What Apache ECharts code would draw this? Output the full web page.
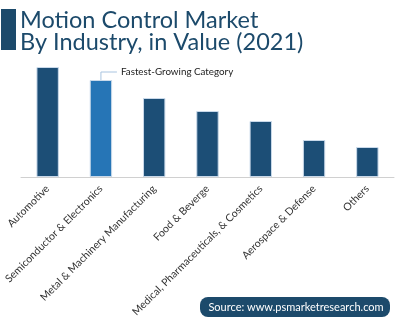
<!DOCTYPE html>
<html>
<head>
<meta charset="utf-8">
<script src="https://cdn.jsdelivr.net/npm/echarts@6/dist/echarts.min.js"></script>
<style>
  html, body { margin: 0; padding: 0; background: #fff; }
  #chart { width: 399px; height: 321px; }
</style>
</head>
<body>
<div id="chart"></div>
<script>
// Industry categories and relative market values (2021)
var categories = [
  'Automotive',
  'Semiconductor & Electronics',
  'Metal & Machinery Manufacturing',
  'Food & Beverge',
  'Medical, Pharmaceuticals, & Cosmetics',
  'Aerospace & Defense',
  'Others'
];
var values = [110, 97, 79, 66, 56, 37, 30];
var highlightIndex = 1;
var highlightText = 'Fastest-Growing Category';
var titleLines = ['Motion Control Market', 'By Industry, in Value (2021)'];
var sourceText = 'Source: www.psmarketresearch.com';

var DARK = '#1c4e76';
var LIGHT = '#2675b6';
var TITLE_COLOR = '#1c4a6b';
var FONT = 'Lato, "Open Sans", sans-serif';

var chart = echarts.init(document.getElementById('chart'), null, { renderer: 'canvas' });

var baseGraphics = [
  { type: 'rect', shape: { x: 1, y: 9, width: 15, height: 41 }, style: { fill: TITLE_COLOR } },
  { type: 'text', left: 20, top: 8, style: { text: titleLines[0], fill: TITLE_COLOR, font: '23.5px ' + FONT } },
  { type: 'text', left: 20, top: 30, style: { text: titleLines[1], fill: TITLE_COLOR, font: '23.5px ' + FONT } },
  { type: 'rect', shape: { x: 200, y: 297, width: 190, height: 20, r: 8 }, style: { fill: TITLE_COLOR } },
  { type: 'text', x: 296, y: 307, style: { text: sourceText, fill: '#fff', font: '11px ' + FONT, align: 'center', verticalAlign: 'middle' } }
];

var option = {
  animation: false,
  grid: { left: 21, right: 5, top: 67, bottom: 144, containLabel: false },
  xAxis: {
    type: 'category',
    data: categories,
    axisLine: { lineStyle: { color: '#d0d0d0', width: 1 } },
    axisTick: { show: false },
    axisLabel: {
      rotate: 45,
      interval: 0,
      margin: 10,
      color: '#333',
      fontFamily: FONT,
      fontSize: 10.5
    }
  },
  yAxis: {
    type: 'value',
    min: 0,
    max: 110,
    show: false,
    splitLine: { show: false }
  },
  series: [{
    type: 'bar',
    barWidth: '42%',
    data: values.map(function (v, i) {
      return {
        value: v,
        itemStyle: { color: i === highlightIndex ? LIGHT : DARK }
      };
    }),
    itemStyle: { borderColor: '#c9d9ea', borderWidth: 1 }
  }],
  graphic: baseGraphics
};
chart.setOption(option);

// Callout for the highlighted bar, placed from its data value
var barTop = chart.convertToPixel({ xAxisIndex: 0, yAxisIndex: 0 }, [highlightIndex, values[highlightIndex]]);
var calloutY = barTop[1] - 8;
chart.setOption({
  graphic: baseGraphics.concat([
    {
      type: 'polyline',
      shape: { points: [[barTop[0], barTop[1]], [barTop[0], calloutY], [barTop[0] + 16, calloutY]] },
      style: { stroke: '#a9c4e0', lineWidth: 1, fill: null }
    },
    {
      type: 'text',
      x: barTop[0] + 20,
      y: calloutY,
      style: { text: highlightText, fill: '#222', font: '9.8px ' + FONT, verticalAlign: 'middle' }
    }
  ])
});
</script>
</body>
</html>
